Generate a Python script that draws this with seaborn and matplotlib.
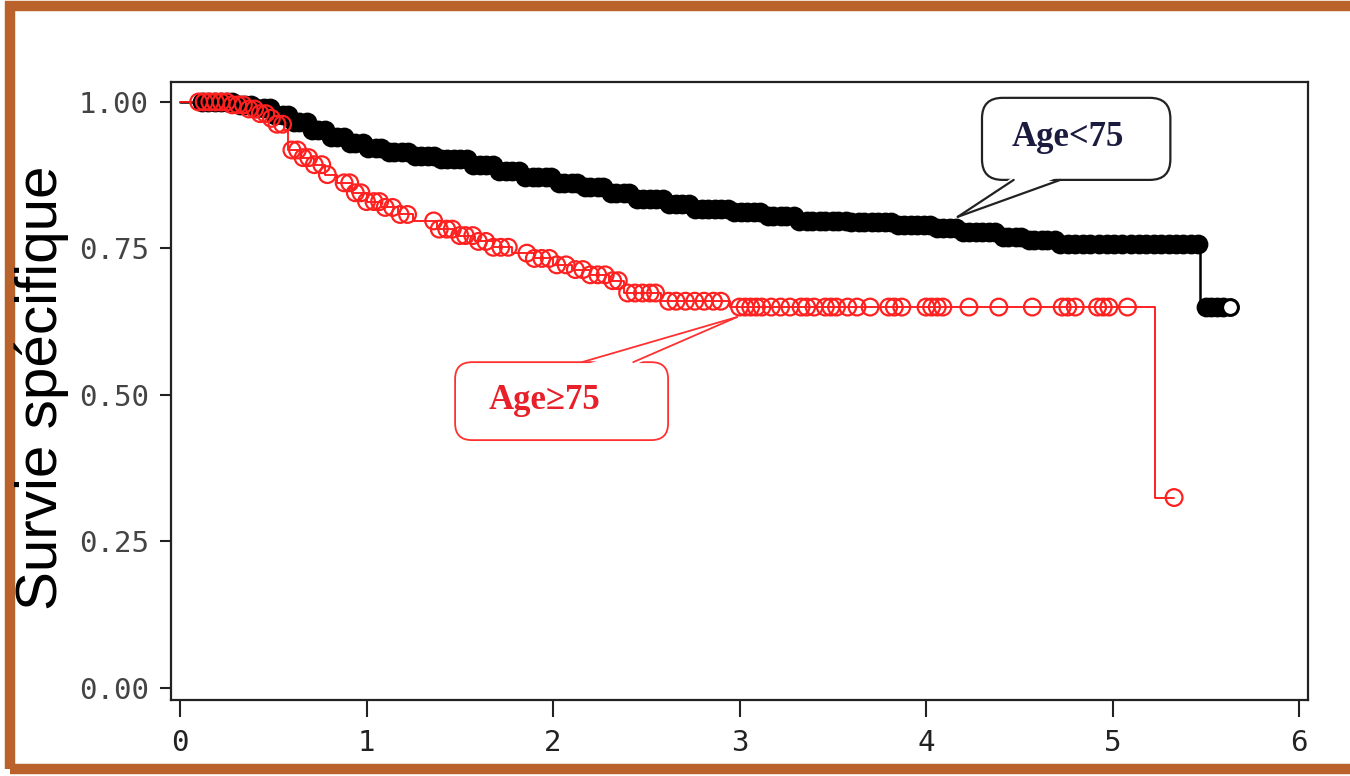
import numpy as np
import pandas as pd
import seaborn as sns
import matplotlib.pyplot as plt
from matplotlib.patches import FancyBboxPatch, Polygon, Rectangle

# Kaplan-Meier steps (years, survival)
young_t = [0.0, 0.30, 0.40, 0.50, 0.60, 0.70, 0.80, 0.90, 1.00, 1.10, 1.25, 1.40, 1.55,
           1.70, 1.85, 2.00, 2.15, 2.30, 2.45, 2.60, 2.75, 2.95, 3.15, 3.30, 3.60, 3.85,
           4.05, 4.20, 4.40, 4.55, 4.70, 5.47, 5.63]
young_s = [1.0, 0.995, 0.990, 0.978, 0.965, 0.952, 0.940, 0.930, 0.922, 0.915, 0.908, 0.903, 0.893,
           0.882, 0.872, 0.862, 0.855, 0.845, 0.835, 0.826, 0.818, 0.812, 0.805, 0.797, 0.795, 0.790,
           0.785, 0.778, 0.770, 0.765, 0.757, 0.650, 0.650]
young_cens = [0.12, 0.15, 0.19, 0.22, 0.25, 0.28, 0.32, 0.35, 0.38, 0.41, 0.45, 0.48, 0.51, 0.55,
              0.58, 0.61, 0.64, 0.68, 0.71, 0.74, 0.78, 0.81, 0.84, 0.88, 0.91, 0.94, 0.98, 1.01,
              1.05, 1.08, 1.12, 1.15, 1.19, 1.22, 1.26, 1.29, 1.33, 1.36, 1.40, 1.43, 1.47, 1.50,
              1.54, 1.57, 1.61, 1.64, 1.68, 1.71, 1.75, 1.78, 1.82, 1.85, 1.89, 1.92, 1.96, 1.99,
              2.03, 2.06, 2.10, 2.13, 2.17, 2.20, 2.24, 2.27, 2.31, 2.34, 2.38, 2.41, 2.45, 2.48,
              2.52, 2.55, 2.59, 2.62, 2.66, 2.69, 2.73, 2.76, 2.80, 2.83, 2.87, 2.90, 2.94, 2.97,
              3.01, 3.04, 3.08, 3.11, 3.15, 3.18, 3.22, 3.25, 3.29, 3.32, 3.36, 3.39, 3.43, 3.46,
              3.50, 3.53, 3.57, 3.60, 3.64, 3.67, 3.71, 3.74, 3.78, 3.81, 3.85, 3.88, 3.92, 3.95,
              3.99, 4.02, 4.06, 4.09, 4.13, 4.16, 4.20, 4.23, 4.27, 4.30, 4.34, 4.37, 4.41, 4.44,
              4.48, 4.51, 4.55, 4.58, 4.62, 4.65, 4.69, 4.72, 4.76, 4.80, 4.84, 4.88, 4.93, 4.97,
              5.01, 5.05, 5.10, 5.14, 5.18, 5.22, 5.26, 5.30, 5.34, 5.38, 5.42, 5.46,
              5.50, 5.53, 5.56, 5.59, 5.63]

old_t = [0.0, 0.28, 0.36, 0.42, 0.47, 0.52, 0.56, 0.58, 0.65, 0.72, 0.78, 0.84, 0.92, 1.00,
         1.08, 1.17, 1.25, 1.38, 1.48, 1.58, 1.68, 1.78, 1.90, 2.00, 2.10, 2.20, 2.30, 2.38,
         2.58, 2.95, 5.23, 5.33]
old_s = [1.0, 0.995, 0.988, 0.980, 0.972, 0.962, 0.952, 0.918, 0.905, 0.893, 0.876, 0.862, 0.845, 0.830,
         0.820, 0.808, 0.797, 0.783, 0.772, 0.762, 0.752, 0.742, 0.733, 0.722, 0.714, 0.705, 0.695, 0.674,
         0.660, 0.650, 0.325, 0.325]
old_cens = [0.10, 0.13, 0.16, 0.19, 0.22, 0.25, 0.28, 0.31, 0.34, 0.37, 0.40, 0.43, 0.46, 0.49,
            0.52, 0.55, 0.60, 0.63, 0.66, 0.69, 0.72, 0.76, 0.79, 0.88, 0.91, 0.94, 0.97, 1.00,
            1.04, 1.07, 1.10, 1.14, 1.18, 1.22, 1.36, 1.39, 1.43, 1.46, 1.50, 1.53, 1.57, 1.60,
            1.64, 1.68, 1.72, 1.76, 1.86, 1.90, 1.94, 1.98, 2.02, 2.07, 2.12, 2.16, 2.20, 2.24,
            2.28, 2.32, 2.35, 2.40, 2.44, 2.48, 2.52, 2.55, 2.62, 2.66, 2.71, 2.76, 2.81, 2.86,
            2.90, 3.00, 3.03, 3.06, 3.09, 3.12, 3.17, 3.22, 3.27, 3.33, 3.36, 3.40, 3.46, 3.49,
            3.52, 3.58, 3.63, 3.70, 3.80, 3.83, 3.87, 4.00, 4.03, 4.06, 4.09, 4.23, 4.39, 4.57,
            4.73, 4.76, 4.80, 4.92, 4.95, 4.98, 5.08, 5.33]

x_ticks = [0, 1, 2, 3, 4, 5, 6]
y_ticks = [0.0, 0.25, 0.50, 0.75, 1.00]


def km_at(times, surv, c):
    # value of the step curve at each censoring time
    idx = np.searchsorted(times, c, side='right') - 1
    return np.asarray(surv)[idx]


sns.set_theme(style='ticks')
plt.rcParams['font.family'] = ['DejaVu Sans']

fig = plt.figure(figsize=(13.5, 7.76), dpi=100)
ax = fig.add_axes([0.1267, 0.0979, 0.8422, 0.7964])

young = pd.DataFrame({'t': young_t, 's': young_s})
old = pd.DataFrame({'t': old_t, 's': old_s})
young_y = km_at(young_t, young_s, young_cens)

sns.lineplot(data=young, x='t', y='s', estimator=None, drawstyle='steps-post',
             color='black', lw=1.8, ax=ax)
# censor marks are so dense they print as a solid band; last one stays open
sns.scatterplot(x=young_cens[:-1], y=young_y[:-1], marker='o', s=150,
                facecolors='black', edgecolor='black', linewidth=2.0, ax=ax, zorder=3)
sns.scatterplot(x=young_cens[-1:], y=young_y[-1:], marker='o', s=130,
                facecolors='white', edgecolor='black', linewidth=2.2, ax=ax, zorder=3)

sns.lineplot(data=old, x='t', y='s', estimator=None, drawstyle='steps-post',
             color='#ff1010', lw=1.3, ax=ax)
sns.scatterplot(x=old_cens, y=km_at(old_t, old_s, old_cens), marker='o', s=145,
                facecolors='none', edgecolor='#ff2020', linewidth=1.6, ax=ax, zorder=4)

ax.set_xlim(-0.048, 6.048)
ax.set_ylim(-0.0205, 1.034)
ax.set_xlabel('')
ax.set_ylabel('')
ax.set_xticks(x_ticks)
ax.set_xticklabels([str(v) for v in x_ticks], fontfamily='DejaVu Sans Mono')
ax.set_yticks(y_ticks)
ax.set_yticklabels([f'{v:.2f}' for v in y_ticks], fontfamily='DejaVu Sans Mono')
ax.tick_params(axis='y', length=8, width=1.5, pad=8, labelsize=21, labelcolor='#444444', color='#222222')
ax.tick_params(axis='x', length=12, width=1.5, pad=9, labelsize=21, labelcolor='#222222', color='#222222')
for sp in ax.spines.values():
    sp.set_visible(True)
    sp.set_linewidth(1.6)
    sp.set_color('#222222')

# speech-bubble callouts
p0 = ax.transData.transform((0, 0))
p1 = ax.transData.transform((1, 1))
asp = (p1[0] - p0[0]) / (p1[1] - p0[1])


def callout(box, base_x, base_y, inward, tip, text, txy, ec, tc, r, lw):
    x0, y0, x1, y1 = box
    ax.add_patch(FancyBboxPatch((x0, y0), x1 - x0, y1 - y0,
                                boxstyle=f'round,pad=0,rounding_size={r}',
                                mutation_aspect=asp, fc='white', ec=ec, lw=lw, zorder=6))
    ax.add_patch(Polygon([(base_x[0], base_y + inward), (base_x[1], base_y + inward), tip],
                         closed=True, fc='white', ec='none', zorder=7))
    for bx in base_x:
        ax.plot([bx, tip[0]], [base_y, tip[1]], color=ec, lw=lw, zorder=8)
    ax.text(txy[0], txy[1], text, color=tc, fontsize=25, fontweight='bold',
            family='Liberation Serif', ha='center', va='center', zorder=9)


callout((4.30, 0.867, 5.31, 1.007), (4.47, 4.72), 0.867, 0.006, (4.17, 0.804),
        'Age<75', (4.76, 0.94), '#222222', '#1b1b40', 0.11, 1.6)
callout((1.475, 0.423, 2.617, 0.556), (2.155, 2.43), 0.556, -0.006, (2.987, 0.633),
        'Age\u226575', (1.957, 0.491), '#ff3030', '#e8202a', 0.09, 1.3)

fig.text(42 / 1350, 1 - 388 / 776, 'Survie spécifique', rotation=90, fontsize=42,
         family='Liberation Sans', color='black', ha='center', va='center')

# brown frame round the picture
fig.add_artist(Rectangle((10 / 1350, 1 - 769 / 776), 1.0, (769 - 6) / 776,
                         transform=fig.transFigure, fill=False, ec='#b9622b', lw=7.5))

fig.savefig('out.png', dpi=100)
